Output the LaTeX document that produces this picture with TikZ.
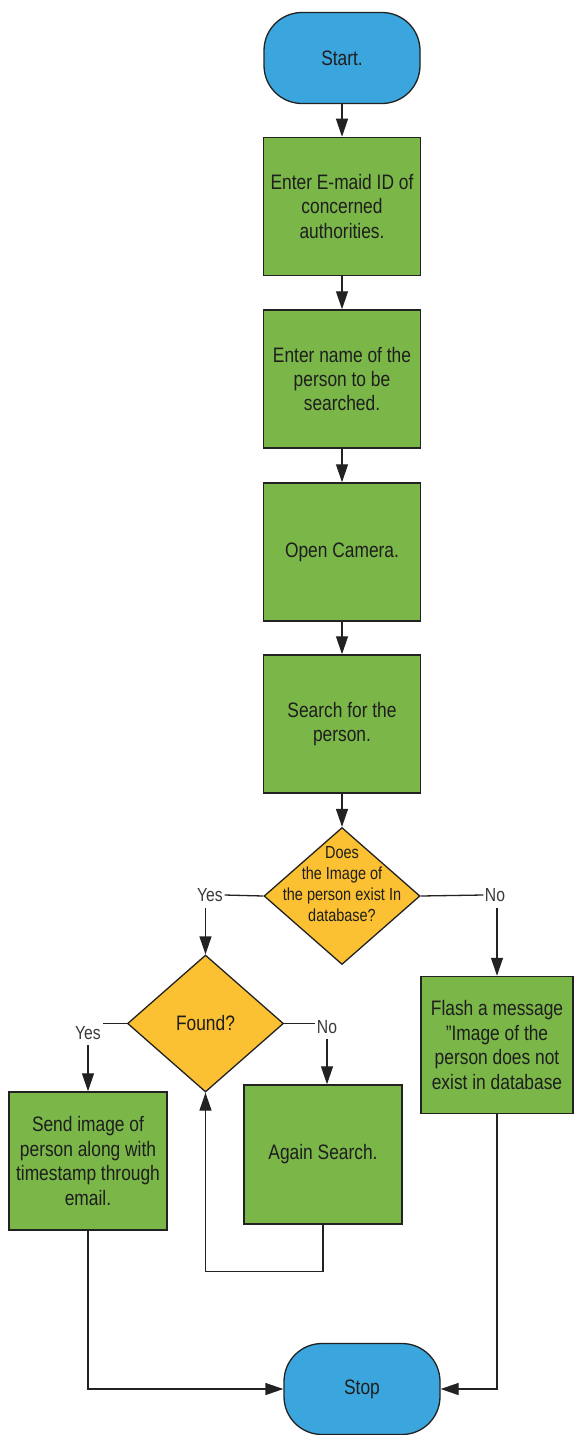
\documentclass[tikz,border=0pt]{standalone}
\usepackage{fontspec}
\setmainfont[FakeStretch=0.83]{Liberation Sans}
\usetikzlibrary{shapes.geometric,arrows.meta}
\definecolor{cblue}{HTML}{3BA6DD}
\definecolor{cgreen}{HTML}{7AB648}
\definecolor{cyellow}{HTML}{FCC132}
\definecolor{cline}{HTML}{222222}
\definecolor{ctext}{HTML}{1E1E1E}
\definecolor{clabel}{HTML}{3A3A3A}
\tikzset{
  boxtext/.style={font=\fontsize{21}{24.5}\selectfont, text=ctext, align=center},
  term/.style={draw=cline, line width=1.3bp, fill=cblue, rounded corners=38bp,
    minimum width=156bp, minimum height=91bp, inner sep=0pt, boxtext},
  procbox/.style={draw=cline, line width=1.5bp, fill=cgreen, minimum width=157bp,
    minimum height=138bp, inner sep=0pt, boxtext},
  decision/.style={draw=cline, line width=1.3bp, fill=cyellow, diamond,
    minimum width=156bp, minimum height=137bp, inner sep=0pt, boxtext},
  dtext/.style={font=\fontsize{17.5}{21}\selectfont, text=ctext, align=center, inner sep=0pt},
  lbl/.style={font=\fontsize{19}{21}\selectfont, text=clabel, inner sep=1.5bp},
  conn/.style={draw=cline, line width=1.3bp},
  arr/.style={conn, -{Triangle[length=18bp,width=12bp]}}
}
\begin{document}
\begin{tikzpicture}[x=1bp,y=-1bp]
\useasboundingbox[fill=white] (0,0) rectangle (574,1435);

\node[term] (start) at (342,58) {Start.};
\node[procbox] (b1) at (342,206.5) {Enter E-maid ID of\\concerned\\authorities.};
\node[procbox] (b2) at (342,379) {Enter name of the\\person to be\\searched.};
\node[procbox] (b3) at (342,552) {Open Camera.};
\node[procbox] (b4) at (342,724) {Search for the\\person.};
\node[decision] (d1) at (342,896) {};
\node[dtext] (d1t) at (342,884) {Does\\the Image of\\the person exist In\\database?};

\node[lbl] (yes1) at (210,895) {Yes};
\node[lbl] (no1) at (495,895) {No};

\node[decision] (d2) at (205.5,1023.5) {Found?};
\node[procbox, minimum width=152bp, minimum height=137bp] (flash) at (497,1045)
  {Flash a message\\"Image of the\\person does not\\exist in database};

\node[lbl] (yes2) at (88,1033) {Yes};
\node[lbl] (no2) at (327,1027) {No};

\node[procbox, minimum width=158bp] (send) at (88,1161)
  {Send image of\\person along with\\timestamp through\\email.};
\node[procbox, minimum width=158bp, minimum height=139bp] (again) at (323,1154.5) {Again Search.};

\node[term] (stop) at (362,1389) {Stop};

\draw[arr] (start) -- (b1);
\draw[arr] (b1) -- (b2);
\draw[arr] (b2) -- (b3);
\draw[arr] (b3) -- (b4);
\draw[arr] (b4) -- (d1);

\draw[conn] (d1.west) -- (yes1.east);
\draw[conn] (d1.east) -- (no1.west);
\draw[arr] ([yshift=-5bp]yes1.south -| d2.north) -- (d2.north);
\draw[arr] ([yshift=-5bp]no1.south -| flash.north) -- (flash.north);

\draw[conn] (d2.west) -- (d2.west -| yes2.north east);
\draw[conn] (d2.east) -- (d2.east -| no2.west);
\draw[arr] ([yshift=-4bp]yes2.south) -- (send.north);
\draw[arr] ([yshift=-4bp]no2.south) -- (no2.south |- again.north);

\draw[arr] (again.south) -- ++(0,47) -| (d2.south);
\draw[arr] (send.south) |- (stop.west);
\draw[arr] (flash.south) |- (stop.east);
\end{tikzpicture}
\end{document}
